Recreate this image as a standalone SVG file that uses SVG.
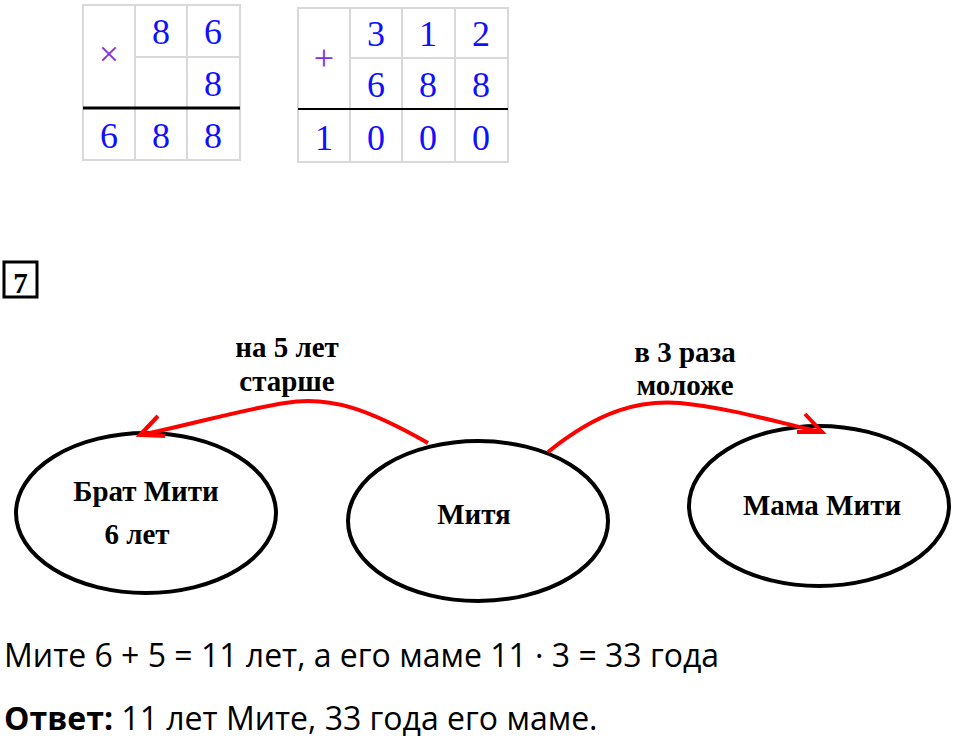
<svg xmlns="http://www.w3.org/2000/svg" width="960" height="742" viewBox="0 0 960 742">
<style>
.c{fill:none;stroke:#d9d9d9;stroke-width:2}
.d{font-family:"Liberation Serif",serif;font-size:36px;fill:#1010ff;text-anchor:middle}
.e{fill:#fff;stroke:#000;stroke-width:4}
.n{font-family:"Liberation Serif",serif;font-weight:bold;font-size:29px;text-anchor:middle}
.a{fill:none;stroke:#f00;stroke-width:4}
.t{font-family:"Open Sans","Noto Sans",sans-serif;font-size:32px}
</style>
<rect width="960" height="742" fill="#fff"/>
<g id="mult">
<path class="c" d="M83 5H240V160H83Z M135 5V160 M187 5V160 M135 57H240"/>
<line x1="83" y1="108" x2="240" y2="108" stroke="#000" stroke-width="3"/>
<text class="d" x="109" y="66" style="fill:#8030e0">×</text>
<text class="d" x="161" y="44">8</text><text class="d" x="213" y="44">6</text>
<text class="d" x="213" y="96">8</text>
<text class="d" x="109" y="148">6</text><text class="d" x="161" y="148">8</text><text class="d" x="213" y="148">8</text>
</g>
<g id="add">
<path class="c" d="M298 8H508V162H298Z M350 8V162 M402 8V162 M455 8V162 M350 58H508"/>
<line x1="298" y1="109" x2="508" y2="109" stroke="#000" stroke-width="2"/>
<text class="d" x="324" y="70" style="fill:#8030e0">+</text>
<text class="d" x="376" y="46">3</text><text class="d" x="428" y="46">1</text><text class="d" x="481" y="46">2</text>
<text class="d" x="376" y="97">6</text><text class="d" x="428" y="97">8</text><text class="d" x="481" y="97">8</text>
<text class="d" x="324" y="150">1</text><text class="d" x="376" y="150">0</text><text class="d" x="428" y="150">0</text><text class="d" x="481" y="150">0</text>
</g>
<g id="num7">
<rect x="4" y="262" width="33" height="35" fill="none" stroke="#000" stroke-width="3"/>
<text x="20.5" y="293" class="n" font-size="34">7</text>
</g>
<g id="brat"><ellipse class="e" cx="146" cy="513" rx="130" ry="80"/>
<text class="n" x="146" y="501">Брат Мити</text><text class="n" x="137" y="544">6 лет</text></g>
<g id="mitya"><ellipse class="e" cx="478" cy="521" rx="130" ry="80"/>
<text class="n" x="474" y="524">Митя</text></g>
<g id="mama"><ellipse class="e" cx="819" cy="506" rx="130" ry="80"/>
<text class="n" x="822" y="515">Мама Мити</text></g>
<g id="connectors">
<path class="a" d="M428 443 C370 410 330 395 285 403 C240 410 190 425 140 435"/>
<path class="a" d="M158 416 L140 435 L165 436"/>
<path class="a" d="M548 452 C600 410 640 400 680 403 C730 408 780 423 822 432"/>
<path class="a" d="M805 414 L822 432 L797 432"/>
<text class="n" x="287" y="357">на 5 лет</text>
<text class="n" x="287" y="391">старше</text>
<text class="n" x="685" y="362">в 3 раза</text>
<text class="n" x="685" y="395">моложе</text>
</g>
<text class="t" x="4" y="667">Мите 6 + 5 = 11 лет, а его маме 11 · 3 = 33 года</text>
<text class="t" x="4" y="730"><tspan font-weight="bold">Ответ:</tspan> 11 лет Мите, 33 года его маме.</text>
</svg>
